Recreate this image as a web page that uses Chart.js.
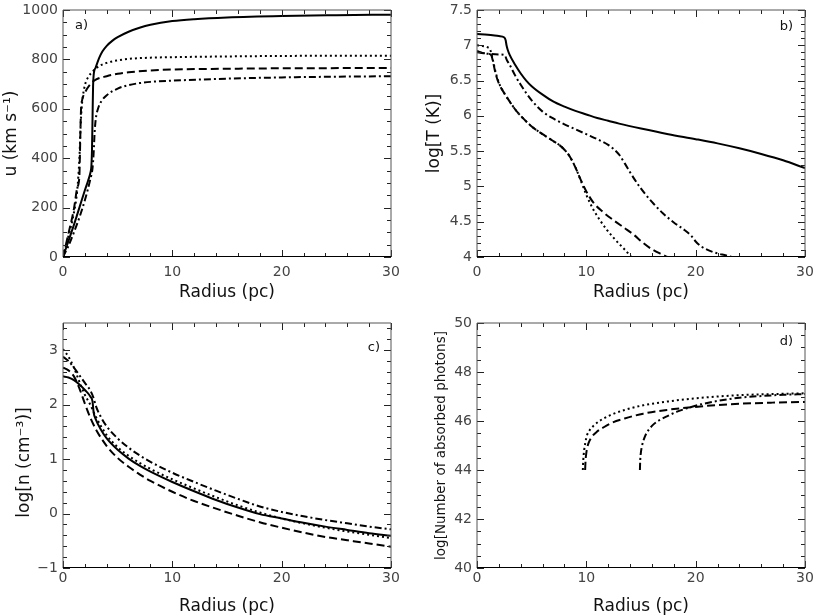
<!DOCTYPE html>
<html>
<head>
<meta charset="utf-8">
<script src="https://cdn.jsdelivr.net/npm/chart.js@4.4.0/dist/chart.umd.min.js"></script>
<style>
  body { margin: 0; background: #fff; }
  #wrap { position: relative; width: 830px; height: 615px; overflow: hidden; }
  canvas { position: absolute; }
</style>
</head>
<body>
<div id="wrap">
  <canvas id="panelA" width="415" height="307" style="left:0;top:0"></canvas>
  <canvas id="panelB" width="415" height="307" style="left:415px;top:0"></canvas>
  <canvas id="panelC" width="415" height="308" style="left:0;top:307px"></canvas>
  <canvas id="panelD" width="415" height="308" style="left:415px;top:307px"></canvas>
</div>
<script>
// Tick values (major ticks, labelled)
const radiusTicks = [0, 10, 20, 30];
const aTicks = [0, 200, 400, 600, 800, 1000];
const bTicks = [4, 4.5, 5, 5.5, 6, 6.5, 7, 7.5];
const cTicks = [-1, 0, 1, 2, 3];
const dTicks = [40, 42, 44, 46, 48, 50];

// a) velocity u (km/s) against radius (pc)
const aSolidR = [0, 0.5, 1, 1.5, 2, 2.3, 2.5, 2.6, 2.65, 2.7, 2.75, 2.8, 3, 3.3, 3.6, 4, 4.5, 5, 6, 7, 8, 10, 12, 15, 20, 25, 30];
const aSolidU = [0, 65, 130, 200, 270, 310, 340, 370, 430, 560, 690, 735, 768, 805, 832, 855, 875, 890, 912, 928, 940, 955, 963, 970, 976, 979, 981];
const aDottedR = [0, 0.5, 1, 1.3, 1.5, 1.6, 1.7, 1.8, 2, 2.3, 2.7, 3.2, 4, 5, 6, 8, 10, 15, 20, 30];
const aDottedU = [0, 85, 180, 270, 400, 520, 600, 645, 695, 728, 750, 770, 786, 796, 802, 807, 809, 812, 814, 815];
const aDashedR = [0, 0.5, 1, 1.3, 1.5, 1.55, 1.6, 1.65, 1.75, 2, 2.5, 3, 4, 5, 6, 8, 10, 15, 20, 30];
const aDashedU = [0, 95, 195, 280, 330, 420, 520, 600, 635, 665, 700, 718, 732, 742, 748, 755, 759, 762, 764, 765];
const aDashDotR = [0, 0.5, 1, 1.5, 2, 2.5, 2.7, 2.8, 2.9, 3, 3.2, 3.5, 4, 5, 6, 7, 8, 10, 15, 20, 25, 30];
const aDashDotU = [0, 45, 100, 160, 230, 315, 360, 420, 510, 560, 600, 630, 655, 682, 696, 704, 709, 714, 722, 727, 730, 732];

// b) log T (K)
const bSolidR = [0, 1, 2, 2.5, 2.62, 2.7, 2.8, 3, 3.5, 4, 4.5, 5, 6, 7, 8, 9, 10, 11, 12, 13, 15, 17.5, 20, 22, 24, 26, 28, 30];
const bSolidT = [7.16, 7.15, 7.13, 7.11, 7.07, 7.0, 6.94, 6.86, 6.72, 6.6, 6.5, 6.42, 6.3, 6.2, 6.13, 6.07, 6.02, 5.97, 5.93, 5.89, 5.82, 5.74, 5.67, 5.61, 5.54, 5.46, 5.37, 5.26];
const bDottedR = [0, 0.5, 1, 1.2, 1.5, 1.7, 2, 2.5, 3, 3.5, 4, 5, 6, 7, 7.5, 8, 8.5, 9, 9.5, 10, 10.65, 11.3, 11.9, 12.5, 13.1, 13.6, 14.1];
const bDottedT = [7.0, 6.99, 6.97, 6.94, 6.76, 6.62, 6.47, 6.32, 6.2, 6.09, 6.0, 5.85, 5.74, 5.64, 5.59, 5.52, 5.42, 5.27, 5.08, 4.88, 4.67, 4.51, 4.38, 4.27, 4.17, 4.09, 4.0];
const bDashedR = [0, 0.5, 1, 1.3, 1.5, 1.7, 2, 2.5, 3, 3.5, 4, 5, 6, 7, 7.5, 8, 8.5, 9, 9.5, 10, 10.65, 11.5, 12.5, 13.5, 14.3, 15.2, 16, 17, 17.4];
const bDashedT = [6.9, 6.89, 6.88, 6.86, 6.74, 6.6, 6.46, 6.32, 6.2, 6.09, 6.0, 5.85, 5.74, 5.64, 5.59, 5.52, 5.42, 5.27, 5.09, 4.93, 4.77, 4.64, 4.52, 4.41, 4.32, 4.2, 4.11, 4.03, 4.0];
const bDashDotR = [0, 0.5, 1, 2, 2.55, 2.7, 3, 3.5, 4, 5, 6, 7, 8, 9, 10, 11, 12, 12.5, 13, 13.5, 14, 14.9, 16, 17, 18, 19, 19.6, 20, 20.5, 21.6, 22.8, 23.3];
const bDashDotT = [6.92, 6.89, 6.88, 6.87, 6.86, 6.8, 6.72, 6.57, 6.44, 6.22, 6.06, 5.96, 5.88, 5.81, 5.74, 5.67, 5.59, 5.53, 5.45, 5.33, 5.2, 4.99, 4.78, 4.62, 4.49, 4.38, 4.3, 4.22, 4.15, 4.07, 4.02, 4.0];

// c) log n (cm^-3)
const cSolidR = [0, 0.5, 1, 1.5, 2, 2.5, 2.7, 2.8, 3, 3.5, 4, 5, 6, 7, 8, 10, 12, 14, 16, 18, 20, 22, 24, 26, 28, 30];
const cSolidN = [2.52, 2.5, 2.45, 2.37, 2.27, 2.15, 2.06, 1.86, 1.73, 1.53, 1.38, 1.17, 1.01, 0.88, 0.77, 0.58, 0.41, 0.25, 0.11, -0.01, -0.09, -0.17, -0.24, -0.3, -0.36, -0.41];
const cDottedR = [0, 0.5, 1, 1.5, 2, 2.5, 3, 4, 5, 6, 8, 10, 12, 14, 16, 18, 20, 22, 24, 26, 28, 30];
const cDottedN = [3.02, 2.88, 2.68, 2.42, 2.18, 2.0, 1.78, 1.44, 1.22, 1.06, 0.82, 0.63, 0.46, 0.3, 0.15, 0.02, -0.09, -0.18, -0.26, -0.33, -0.39, -0.45];
const cDashedR = [0, 0.5, 1, 1.5, 2, 2.5, 3, 4, 5, 6, 7, 8, 10, 12, 14, 16, 18, 20, 22, 24, 26, 28, 30];
const cDashedN = [2.68, 2.63, 2.52, 2.3, 2.02, 1.76, 1.55, 1.24, 1.02, 0.86, 0.72, 0.6, 0.4, 0.23, 0.09, -0.04, -0.16, -0.26, -0.35, -0.43, -0.49, -0.55, -0.61];
const cDashDotR = [0, 0.5, 1, 1.5, 2, 2.5, 2.8, 3, 3.5, 4, 5, 6, 7, 8, 10, 12, 14, 16, 18, 20, 22, 24, 26, 28, 30];
const cDashDotN = [2.88, 2.8, 2.68, 2.54, 2.4, 2.26, 2.12, 1.98, 1.76, 1.6, 1.38, 1.21, 1.07, 0.95, 0.75, 0.58, 0.42, 0.27, 0.13, 0.03, -0.05, -0.12, -0.18, -0.24, -0.29];

// d) log of the number of absorbed photons
const dDottedR = [9.68, 9.72, 9.8, 9.9, 10.05, 10.3, 10.65, 11.2, 12.2, 13.5, 15.2, 17.5, 19.8, 22, 24.3, 27, 30];
const dDottedP = [44.0, 44.4, 44.8, 45.1, 45.4, 45.62, 45.8, 46.0, 46.24, 46.45, 46.64, 46.8, 46.92, 47.0, 47.06, 47.1, 47.13];
const dDashedR = [9.89, 9.93, 10.0, 10.1, 10.2, 10.5, 10.96, 11.5, 12.2, 13.5, 15.2, 17.5, 19.8, 22, 24.3, 27, 30];
const dDashedP = [44.0, 44.4, 44.7, 44.95, 45.1, 45.35, 45.56, 45.72, 45.9, 46.1, 46.3, 46.46, 46.57, 46.65, 46.71, 46.75, 46.78];
const dDashDotR = [14.9, 14.93, 15.0, 15.1, 15.3, 15.5, 16, 16.7, 17.5, 18.3, 19.2, 20.5, 22, 24, 26, 28, 30];
const dDashDotP = [44.0, 44.4, 44.75, 45.0, 45.3, 45.5, 45.8, 46.04, 46.22, 46.38, 46.52, 46.68, 46.82, 46.95, 47.02, 47.07, 47.1];

// Line patterns
const SOLID = [];
const DOTTED = [2, 3];
const DASHED = [8, 4];
const DASHDOT = [7, 3, 2, 3];

const FONT = 'DejaVu Sans';

// One black line from a radius array and a value array
function series(rs, vs, dash) {
    return {
        data: rs.map((r, i) => ({ x: r, y: vs[i] })),
        borderColor: '#000',
        borderWidth: 2,
        borderDash: dash,
        pointRadius: 0,
        fill: false,
        cubicInterpolationMode: 'monotone'
    };
}

function stepValues(min, max, step) {
    const out = [];
    const n = Math.floor((max - min) / step + 1e-9);
    for (let i = 0; i <= n; i++) out.push(min + i * step);
    return out;
}

function isMajor(v, majors) {
    return majors.some(m => Math.abs(m - v) < 1e-6);
}

// Inward major/minor ticks on all four sides, the box, and the panel letter
const framePlugin = {
    id: 'frame',
    afterDatasetsDraw(chart, args, opts) {
        const { ctx, chartArea: a, scales: { x, y } } = chart;
        ctx.save();
        ctx.lineWidth = 1;
        ctx.strokeStyle = '#222';
        ctx.beginPath();
        stepValues(x.min, x.max, opts.xMinor).forEach(v => {
            const px = Math.round(x.getPixelForValue(v)) + 0.5;
            const len = isMajor(v, opts.xMajor) ? 7 : 4;
            ctx.moveTo(px, a.bottom); ctx.lineTo(px, a.bottom - len);
            ctx.moveTo(px, a.top); ctx.lineTo(px, a.top + len);
        });
        stepValues(y.min, y.max, opts.yMinor).forEach(v => {
            const py = Math.round(y.getPixelForValue(v)) + 0.5;
            const len = isMajor(v, opts.yMajor) ? 7 : 4;
            ctx.moveTo(a.left, py); ctx.lineTo(a.left + len, py);
            ctx.moveTo(a.right, py); ctx.lineTo(a.right - len, py);
        });
        ctx.stroke();

        // box: left/top/right soft, bottom crisp
        ctx.strokeStyle = '#555';
        ctx.beginPath();
        ctx.moveTo(a.left, a.bottom);
        ctx.lineTo(a.left, a.top);
        ctx.lineTo(a.right, a.top);
        ctx.lineTo(a.right, a.bottom);
        ctx.stroke();
        ctx.strokeStyle = '#000';
        ctx.beginPath();
        ctx.moveTo(a.left, Math.round(a.bottom) - 0.5);
        ctx.lineTo(a.right, Math.round(a.bottom) - 0.5);
        ctx.stroke();

        ctx.fillStyle = '#111';
        ctx.font = '13px "' + FONT + '"';
        ctx.textBaseline = 'middle';
        ctx.textAlign = opts.tagAlign;
        const tx = opts.tagAlign === 'left' ? a.left + opts.tagX : a.right - opts.tagX;
        ctx.fillText(opts.tag, tx, a.top + opts.tagY);
        ctx.restore();
    }
};

function tickLabel(v) {
    return v < 0 ? '\u2212' + Math.abs(v) : String(v);
}

function makePanel(id, p) {
    return new Chart(document.getElementById(id), {
        type: 'line',
        data: { datasets: p.datasets },
        options: {
            responsive: false,
            animation: false,
            devicePixelRatio: 1,
            events: [],
            layout: { padding: { top: p.top, right: p.right, left: 0, bottom: 0 } },
            plugins: {
                legend: { display: false },
                tooltip: { enabled: false },
                frame: {
                    xMajor: radiusTicks, xMinor: 2,
                    yMajor: p.yTicks, yMinor: p.yMinor,
                    tag: p.tag, tagX: p.tagX, tagY: p.tagY, tagAlign: p.tagAlign
                }
            },
            scales: {
                x: {
                    type: 'linear',
                    min: 0,
                    max: 30,
                    grid: { display: false, drawTicks: false },
                    border: { display: false },
                    afterBuildTicks: s => { s.ticks = radiusTicks.map(v => ({ value: v })); },
                    afterFit: s => {
                        s.height = p.xHeight;
                        s.paddingLeft = 0; s.paddingRight = 0;
                    },
                    ticks: {
                        autoSkip: false,
                        maxRotation: 0,
                        padding: p.xTickPad,
                        color: '#444',
                        font: { family: FONT, size: 14 },
                        callback: tickLabel
                    },
                    title: {
                        display: true,
                        text: 'Radius (pc)',
                        color: '#111',
                        font: { family: FONT, size: 17, lineHeight: 1 },
                        padding: { top: 0, bottom: p.xTitlePad }
                    }
                },
                y: {
                    type: 'linear',
                    min: p.yTicks[0],
                    max: p.yMax,
                    grid: { display: false, drawTicks: false },
                    border: { display: false },
                    afterBuildTicks: s => { s.ticks = p.yTicks.map(v => ({ value: v })); },
                    afterFit: s => {
                        s.width = p.yWidth;
                        s.paddingTop = 0; s.paddingBottom = 0;
                    },
                    ticks: {
                        autoSkip: false,
                        padding: 5,
                        color: '#444',
                        font: { family: FONT, size: 14 },
                        callback: tickLabel
                    },
                    title: {
                        display: true,
                        text: p.yTitle,
                        color: '#111',
                        font: { family: FONT, size: p.yTitleSize, lineHeight: 1 },
                        padding: { top: p.yTitlePad, bottom: 0 }
                    }
                }
            }
        },
        plugins: [framePlugin]
    });
}

makePanel('panelA', {
    datasets: [
        series(aSolidR, aSolidU, SOLID),
        series(aDottedR, aDottedU, DOTTED),
        series(aDashedR, aDashedU, DASHED),
        series(aDashDotR, aDashDotU, DASHDOT)
    ],
    yTicks: aTicks, yMax: 1000, yMinor: 50,
    yTitle: 'u (km s\u207B\u00B9)', yTitleSize: 17, yTitlePad: 3,
    top: 10, right: 24, yWidth: 63, xHeight: 50, xTickPad: 7, xTitlePad: 6,
    tag: 'a)', tagX: 12, tagY: 16, tagAlign: 'left'
});

makePanel('panelB', {
    datasets: [
        series(bSolidR, bSolidT, SOLID),
        series(bDottedR, bDottedT, DOTTED),
        series(bDashedR, bDashedT, DASHED),
        series(bDashDotR, bDashDotT, DASHDOT)
    ],
    yTicks: bTicks, yMax: 7.5, yMinor: 0.1,
    yTitle: 'log[T (K)]', yTitleSize: 17, yTitlePad: 11.5,
    top: 10, right: 25, yWidth: 62, xHeight: 50, xTickPad: 7, xTitlePad: 6,
    tag: 'b)', tagX: 12, tagY: 17, tagAlign: 'right'
});

makePanel('panelC', {
    datasets: [
        series(cSolidR, cSolidN, SOLID),
        series(cDottedR, cDottedN, DOTTED),
        series(cDashedR, cDashedN, DASHED),
        series(cDashDotR, cDashDotN, DASHDOT)
    ],
    yTicks: cTicks, yMax: 3.5, yMinor: 0.2,
    yTitle: 'log[n (cm\u207B\u00B3)]\u2002\u2002\u2002\u2002', yTitleSize: 17, yTitlePad: 16.5,
    top: 16, right: 24, yWidth: 63, xHeight: 47, xTickPad: 2, xTitlePad: 0,
    tag: 'c)', tagX: 11, tagY: 25, tagAlign: 'right'
});

makePanel('panelD', {
    datasets: [
        series(dDottedR, dDottedP, DOTTED),
        series(dDashedR, dDashedP, DASHED),
        series(dDashDotR, dDashDotP, DASHDOT)
    ],
    yTicks: dTicks, yMax: 50, yMinor: 0.5,
    yTitle: 'log[Number of absorbed photons]', yTitleSize: 13.5, yTitlePad: 20,
    top: 16, right: 25, yWidth: 62, xHeight: 47, xTickPad: 2, xTitlePad: 0,
    tag: 'd)', tagX: 12, tagY: 19, tagAlign: 'right'
});
</script>
</body>
</html>
